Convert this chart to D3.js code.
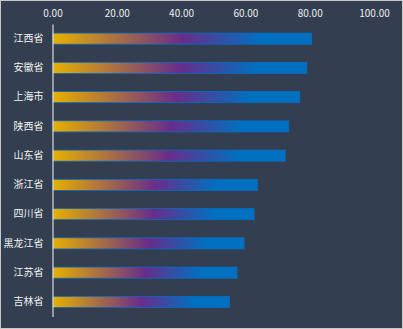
<!DOCTYPE html>
<html><head><meta charset="utf-8">
<script src="https://cdn.jsdelivr.net/npm/d3@7"></script>
<style>
html,body{margin:0;padding:0;background:#333f50;}
svg{display:block;}
</style></head>
<body>
<svg id="chart" width="403" height="329"></svg>
<script>
const categories = ["江西省","安徽省","上海市","陕西省","山东省","浙江省","四川省","黑龙江省","江苏省","吉林省"];
const values = [80.6, 79.1, 76.9, 73.5, 72.4, 63.7, 62.7, 59.6, 57.4, 55.0];
const tickValues = [0, 20, 40, 60, 80, 100];

const W = 403, H = 329;
const svg = d3.select("#chart");
svg.append("rect").attr("x",0.5).attr("y",0.5).attr("width",W-1).attr("height",H-1)
  .attr("fill","#333f50").attr("stroke","#c8c8c8").attr("stroke-width",1);

const x = d3.scaleLinear().domain([0,100]).range([52.5, 374]);
const y = d3.scaleBand().domain(categories).range([24, 316.5]).paddingInner(0.62).paddingOuter(0.31);

const defs = svg.append("defs");
const grad = defs.append("linearGradient").attr("id","barGrad")
  .attr("x1","0%").attr("x2","100%").attr("y1","0%").attr("y2","0%");
grad.append("stop").attr("offset","0%").attr("stop-color","#e8b000");
grad.append("stop").attr("offset","50%").attr("stop-color","#682d8a");
grad.append("stop").attr("offset","80%").attr("stop-color","#0070c0");
grad.append("stop").attr("offset","100%").attr("stop-color","#0070c0");

// top axis labels
const xAxis = d3.axisTop(x).tickValues(tickValues).tickFormat(d3.format(".2f")).tickSize(0).tickPadding(0);
const gx = svg.append("g").attr("transform","translate(0,17)").call(xAxis);
gx.select(".domain").remove();
gx.selectAll("text").attr("fill","#ececec").style("font-family","'Noto Sans CJK SC', 'Noto Sans', sans-serif").style("font-size","10px");

// bars
svg.append("g").selectAll("rect").data(values).join("rect")
  .attr("x", x(0))
  .attr("y", (d,i)=>y(categories[i]))
  .attr("width", d=>x(d)-x(0))
  .attr("height", y.bandwidth())
  .attr("fill","url(#barGrad)")
  .attr("stroke","#0a6cc0").attr("stroke-width",0.8);

// y axis
const yAxis = d3.axisLeft(y).tickSize(0).tickPadding(9);
const gy = svg.append("g").attr("transform",`translate(${x(0)},0)`).call(yAxis);
gy.select(".domain").attr("stroke","#d9d9d9").attr("stroke-width",1.2);
gy.selectAll("text").attr("fill","#f2f2f2").style("font-family","'Noto Sans CJK SC', sans-serif").style("font-size","10px").style("font-weight","400");
</script>
</body></html>
